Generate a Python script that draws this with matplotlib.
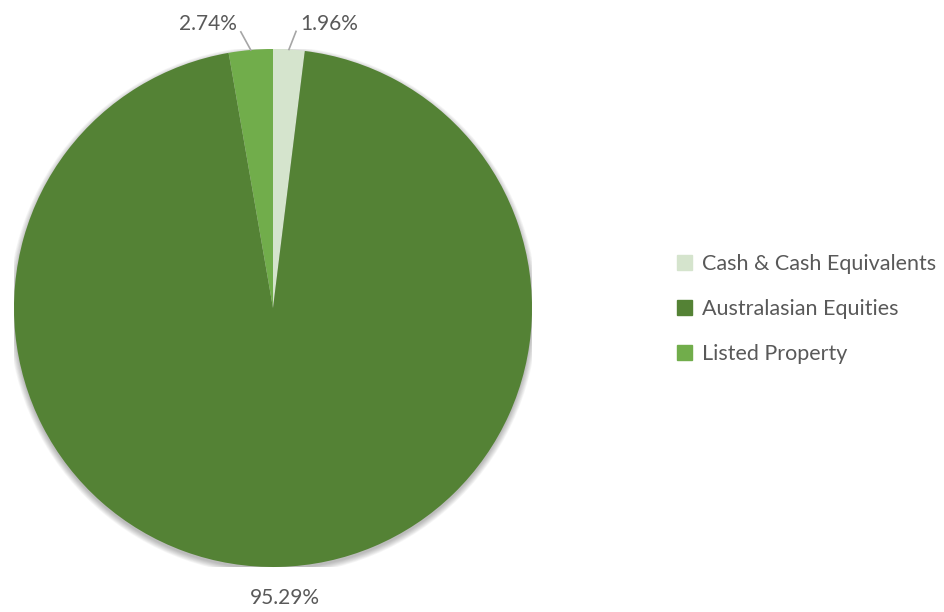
import matplotlib
matplotlib.use("Agg")
import matplotlib.pyplot as plt
from matplotlib.patches import Circle
import numpy as np

categories = ["Cash & Cash Equivalents", "Australasian Equities", "Listed Property"]
values = [1.96, 95.29, 2.74]
labels = ["1.96%", "95.29%", "2.74%"]
colors = ["#d5e4cd", "#548235", "#71ad4b"]

plt.rcParams['font.family'] = ['Lato', 'DejaVu Sans']
txt_color = "#595959"

fig = plt.figure(figsize=(9.44, 6.12), dpi=100)
ax = fig.add_axes([14/944, 45/612, 518/944, 518/612])

# soft shadow
for k in range(8):
    r = 1.0 + 0.003 * k
    ax.add_patch(Circle((0, -0.01), r, color='black', alpha=0.035, lw=0, zorder=0))

wedges, _ = ax.pie(values, colors=colors, startangle=90, counterclock=False,
                   wedgeprops=dict(linewidth=0, zorder=2))
ax.set_xlim(-1, 1)
ax.set_ylim(-1, 1)
ax.set_aspect('equal')

total = sum(values)
cum = 0
for i, v in enumerate(values):
    mid = 90 - (cum + v / 2) / total * 360
    cum += v
    a = np.deg2rad(mid)
    ex, ey = np.cos(a), np.sin(a)
    if i == 1:
        ax.text(1.12 * ex + 0.02, 1.12 * ey, labels[i], ha='center', va='center',
                fontsize=15, color=txt_color, clip_on=False)
    else:
        lx, ly = 1.07 * ex * 1.35, 1.07 * ey
        ax.plot([ex, lx], [ey, ly], color="#a6a6a6", lw=1.2, clip_on=False)
        ha = 'left' if ex > 0 else 'right'
        ax.text(lx + (0.015 if ex > 0 else -0.015), ly + 0.03, labels[i], ha=ha, va='center',
                fontsize=15, color=txt_color, clip_on=False)

handles = [plt.Rectangle((0, 0), 1, 1, color=c) for c in colors]
leg = fig.legend(handles, categories, loc='center left', bbox_to_anchor=(658/944, 1 - 309/612),
                 frameon=False, fontsize=15.5, handlelength=0.7, handleheight=0.7,
                 handletextpad=0.45, labelspacing=1.15)
for t in leg.get_texts():
    t.set_color(txt_color)

fig.savefig("out.png", dpi=100)
